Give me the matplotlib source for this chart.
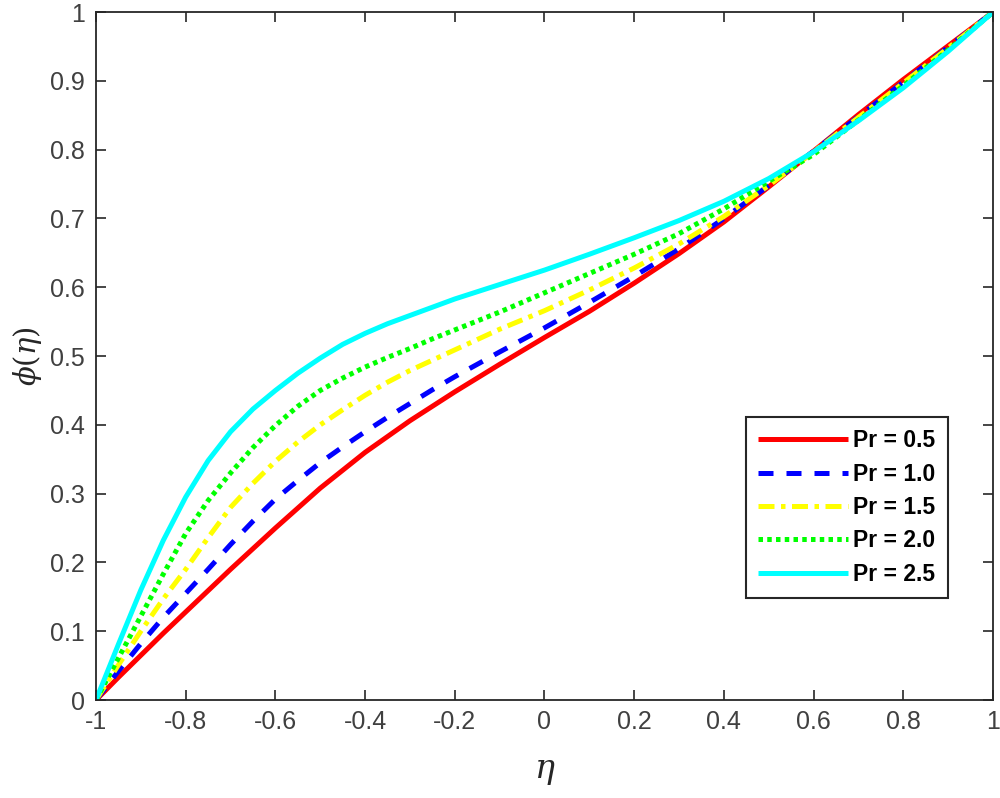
import numpy as np
import matplotlib
matplotlib.use("Agg")
import matplotlib.pyplot as plt

plt.rcParams['font.family'] = ['Liberation Sans', 'DejaVu Sans']
plt.rcParams['mathtext.fontset'] = 'dejavuserif'

eta = [-1.0, -0.95, -0.9, -0.85, -0.8, -0.75, -0.7, -0.65, -0.6, -0.55, -0.5,
       -0.45, -0.4, -0.35, -0.3, -0.25, -0.2, -0.1, 0.0, 0.1, 0.2, 0.3, 0.4,
       0.5, 0.6, 0.7, 0.8, 0.9, 1.0]

phi_pr05 = [0.0, 0.033, 0.065, 0.097, 0.128, 0.159, 0.19, 0.22, 0.25, 0.279, 0.308,
            0.334, 0.36, 0.383, 0.406, 0.427, 0.448, 0.488, 0.527, 0.565, 0.606,
            0.649, 0.695, 0.746, 0.798, 0.851, 0.902, 0.951, 1.0]
phi_pr10 = [0.0, 0.042, 0.082, 0.12, 0.155, 0.19, 0.226, 0.26, 0.292, 0.319, 0.345,
            0.368, 0.39, 0.411, 0.431, 0.451, 0.47, 0.506, 0.541, 0.578, 0.616,
            0.656, 0.70, 0.748, 0.798, 0.848, 0.898, 0.949, 1.0]
phi_pr15 = [0.0, 0.051, 0.10, 0.147, 0.19, 0.236, 0.28, 0.315, 0.347, 0.375, 0.40,
            0.422, 0.443, 0.462, 0.479, 0.494, 0.509, 0.539, 0.566, 0.596, 0.628,
            0.663, 0.703, 0.748, 0.797, 0.847, 0.897, 0.948, 1.0]
phi_pr20 = [0.0, 0.061, 0.122, 0.183, 0.242, 0.29, 0.33, 0.367, 0.399, 0.427, 0.45,
            0.468, 0.484, 0.498, 0.511, 0.525, 0.538, 0.564, 0.592, 0.62, 0.648,
            0.678, 0.714, 0.754, 0.793, 0.843, 0.893, 0.945, 1.0]
phi_pr25 = [0.0, 0.081, 0.16, 0.232, 0.295, 0.348, 0.39, 0.423, 0.45, 0.475, 0.497,
            0.517, 0.533, 0.547, 0.559, 0.571, 0.583, 0.604, 0.625, 0.648, 0.672,
            0.697, 0.725, 0.758, 0.797, 0.842, 0.89, 0.943, 1.0]

labels = ['Pr = 0.5', 'Pr = 1.0', 'Pr = 1.5', 'Pr = 2.0', 'Pr = 2.5']
series = [phi_pr05, phi_pr10, phi_pr15, phi_pr20, phi_pr25]
colors = ['#ff0000', '#0000ff', '#ffff00', '#00ff00', '#00ffff']
styles = ['-', (0, (3.0, 2.6)), (0, (3.2, 1.3, 0.9, 1.3)), (0, (0.9, 0.85)), '-']

fig = plt.figure(figsize=(10, 7.98), dpi=100)
ax = fig.add_axes([0.096, 0.1228, 0.897, 0.862])

lw = 3.6
for y, c, ls, lab in zip(series, colors, styles, labels):
    ax.plot(eta, y, color=c, linestyle=ls, linewidth=lw, label=lab,
            dash_capstyle='butt', solid_capstyle='butt', solid_joinstyle='round')

ax.set_xlim(-1, 1)
ax.set_ylim(0, 1)
ax.set_xticks(np.arange(-1, 1.01, 0.2))
ax.set_xticklabels(['-1', '-0.8', '-0.6', '-0.4', '-0.2', '0', '0.2', '0.4', '0.6', '0.8', '1'])
ax.set_yticks(np.arange(0, 1.01, 0.1))
ax.set_yticklabels(['0', '0.1', '0.2', '0.3', '0.4', '0.5', '0.6', '0.7', '0.8', '0.9', '1'])

axc = '#262626'
ax.tick_params(direction='in', length=7, width=1.2, top=True, right=True,
               labelsize=18, colors=axc, labelcolor='#404040')
ax.tick_params(axis='x', pad=7)
ax.tick_params(axis='y', pad=8)
for s in ax.spines.values():
    s.set_color(axc)
    s.set_linewidth(1.3)

ax.set_xlabel(r'$\eta$', fontsize=24, color=axc, labelpad=16)
ax.set_ylabel(r'$\phi(\eta)$', fontsize=21, color=axc, labelpad=4)

leg = ax.legend(loc='lower right', bbox_to_anchor=(0.95, 0.148), borderaxespad=0,
                fancybox=False, edgecolor=axc, framealpha=1,
                prop={'weight': 'bold', 'size': 16.5}, handlelength=3.9,
                labelspacing=0.45, handletextpad=0.25, borderpad=0.55)
leg.get_frame().set_linewidth(1.5)

fig.savefig('out.png', dpi=100, facecolor='white')
